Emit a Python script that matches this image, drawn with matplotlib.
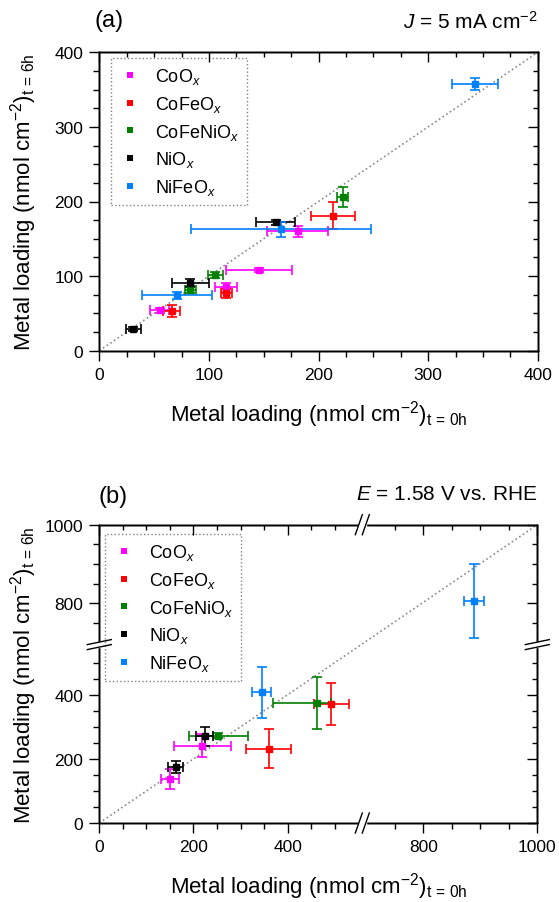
import numpy as np
import matplotlib
matplotlib.use('Agg')
import matplotlib.pyplot as plt
from matplotlib.lines import Line2D
from matplotlib.patches import Rectangle
from matplotlib.ticker import FixedLocator

plt.rcParams['font.family'] = ['Liberation Sans', 'DejaVu Sans']
plt.rcParams['mathtext.fontset'] = 'custom'
plt.rcParams['mathtext.rm'] = 'Liberation Sans'
plt.rcParams['mathtext.it'] = 'Liberation Sans:italic'
plt.rcParams['mathtext.bf'] = 'Liberation Sans:bold'

names = ['CoO$_x$', 'CoFeO$_x$', 'CoFeNiO$_x$', 'NiO$_x$', 'NiFeO$_x$']
colors = ['#FF00FF', '#FF0000', '#008000', '#000000', '#0080FF']

# (a) J = 5 mA cm-2, loading at t = 0h vs t = 6h (nmol cm-2)
a_t0 = [[55, 116, 146, 181], [66, 116, 213], [83, 106, 222], [31, 83, 161], [71, 166, 343]]
a_t0_err = [[9, 10, 30, 28], [8, 5, 20], [5, 7, 5], [7, 17, 18], [32, 82, 21]]
a_t6 = [[54, 85, 108, 160], [53, 77, 181], [82, 102, 206], [29, 91, 172], [74, 163, 357]]
a_t6_err = [[3, 6, 3, 7], [8, 6, 18], [5, 4, 13], [3, 5, 3], [5, 10, 8]]

# (b) E = 1.58 V vs. RHE
b_t0 = [[150, 219], [360, 493], [253, 462], [162, 224], [345, 889]]
b_t0_lo = [[20, 60], [48, 37], [63, 94], [16, 18], [20, 17]]
b_t0_hi = [[20, 60], [48, 37], [63, 30], [16, 18], [20, 17]]
b_t6 = [[137, 241], [232, 370], [272, 374], [174, 270], [407, 805]]
b_t6_err = [[32, 36], [61, 65], [8, 80], [18, 30], [80, 94]]

b_major = [0, 200, 400, 800, 1000]
b_minor = [50, 100, 150, 250, 300, 350, 450, 500, 750, 850, 900, 950]
b_break = [0, 550, 700, 1000]

W, H = 559, 903
fig = plt.figure(figsize=(W / 100, H / 100), dpi=100)


def frac(l, t, r, b):
    return [l / W, 1 - b / H, (r - l) / W, (b - t) / H]


def make_scale(xp, fp):
    xp = np.asarray(xp, float)
    fp = np.asarray(fp, float)

    def conv(v, a, b):
        v = np.asarray(v, float)
        out = np.interp(v, a, b)
        out = np.where(v < a[0], b[0] + (v - a[0]) * (b[1] - b[0]) / (a[1] - a[0]), out)
        out = np.where(v > a[-1], b[-1] + (v - a[-1]) * (b[-1] - b[-2]) / (a[-1] - a[-2]), out)
        return out
    return (lambda v: conv(v, xp, fp), lambda t: conv(t, fp, xp))


def frame(ax, lim, major, minor, xfun=None, yfun=None):
    if xfun:
        ax.set_xscale('function', functions=xfun)
    if yfun:
        ax.set_yscale('function', functions=yfun)
    ax.set_xlim(lim)
    ax.set_ylim(lim)
    axt = ax.twiny()
    axr = ax.twinx()
    if xfun:
        axt.set_xscale('function', functions=xfun)
    if yfun:
        axr.set_yscale('function', functions=yfun)
    axt.set_xlim(lim)
    axr.set_ylim(lim)
    for axis in [ax.xaxis, ax.yaxis, axt.xaxis, axr.yaxis]:
        axis.set_major_locator(FixedLocator(major))
        axis.set_minor_locator(FixedLocator(minor))
    ax.tick_params(which='both', direction='out', width=1, labelsize=12.5, pad=4)
    ax.tick_params(which='major', length=7.5)
    ax.tick_params(which='minor', length=4)
    for a in (axt, axr):
        a.tick_params(which='both', direction='in', width=1, labeltop=False,
                      labelright=False)
        a.tick_params(which='major', length=7.5)
        a.tick_params(which='minor', length=3.5)
    for a in (ax, axt, axr):
        for s in a.spines.values():
            s.set_linewidth(1.0)
    ax.plot(lim, lim, ls=':', color='#8a8a8a', lw=1.2, zorder=1)


def draw_points(ax, xs, xlo, xhi, ys, yerr):
    for i in range(len(names)):
        ax.errorbar(xs[i], ys[i], xerr=[xlo[i], xhi[i]], yerr=yerr[i], fmt='s',
                    color=colors[i], mec=colors[i], ms=5, elinewidth=1.2,
                    capsize=3.8, capthick=1.2, zorder=3)


def add_legend(ax, anchor):
    handles = [Line2D([], [], ls='none', marker='s', color=c, ms=5, mew=0) for c in colors]
    leg = ax.legend(handles, names, loc='upper left', bbox_to_anchor=anchor,
                    borderaxespad=0, fancybox=False, edgecolor='#808080',
                    fontsize=13, handlelength=1.2, handletextpad=0.8,
                    labelspacing=0.43, borderpad=0.45, framealpha=1)
    leg.get_frame().set_linestyle(':')
    leg.get_frame().set_linewidth(1.0)


def to_fig(pts):
    return fig.transFigure.inverted().transform(pts)


def break_marks(ax, xv, yv):
    x0 = ax.transData.transform((xv, 0))[0]
    y0 = ax.transData.transform((0, yv))[1]
    (xl, yb), (xr, yt) = ax.transAxes.transform([(0, 0), (1, 1)])
    for ys in (yb, yt):
        (rx, ry), (rx2, ry2) = to_fig([(x0 - 3.5, ys - 2), (x0 + 3.5, ys + 2)])
        fig.add_artist(Rectangle((rx, ry), rx2 - rx, ry2 - ry, transform=fig.transFigure,
                                 color='white', zorder=10))
        for off in (-3.5, 3.5):
            p = to_fig([(x0 + off - 3.5, ys - 10), (x0 + off + 3.5, ys + 10)])
            fig.add_artist(Line2D(p[:, 0], p[:, 1], transform=fig.transFigure,
                                  color='black', lw=1.0, zorder=11))
    for xs in (xl, xr):
        (rx, ry), (rx2, ry2) = to_fig([(xs - 2, y0 - 2.5), (xs + 2, y0 + 2.5)])
        fig.add_artist(Rectangle((rx, ry), rx2 - rx, ry2 - ry, transform=fig.transFigure,
                                 color='white', zorder=10))
        for off in (-2.5, 2.5):
            p = to_fig([(xs - 12, y0 + off - 2.5), (xs + 12, y0 + off + 2.5)])
            fig.add_artist(Line2D(p[:, 0], p[:, 1], transform=fig.transFigure,
                                  color='black', lw=1.0, zorder=11))


xlabel = 'Metal loading (nmol cm$^{-2}$)$_{\\mathregular{t\\,=\\,0h}}$'
ylabel = 'Metal loading (nmol cm$^{-2}$)$_{\\mathregular{t\\,=\\,6h}}$'

# panel (a)
ax_a = fig.add_axes(frac(99.3, 53.3, 537.7, 351.7))
frame(ax_a, (0, 400), np.arange(0, 401, 100), np.arange(0, 401, 25))
draw_points(ax_a, a_t0, a_t0_err, a_t0_err, a_t6, a_t6_err)
add_legend(ax_a, (0.026, 0.981))
fig.text(95 / W, 1 - 21 / H, '(a)', fontsize=17, ha='left', va='center')
fig.text(538 / W, 1 - 22 / H, '$J$ = 5 mA cm$^{-2}$', fontsize=15, ha='right', va='center')
fig.text(318.5 / W, 1 - 415 / H, xlabel, fontsize=16, ha='center', va='center')
fig.text(24 / W, 1 - 202.5 / H, ylabel, fontsize=16, ha='center', va='center', rotation=90)

# panel (b) with broken axes
ax_b = fig.add_axes(frac(99.3, 525.7, 537.3, 824))
fx = make_scale(b_break, [0, 259, 267, 438])
fy = make_scale(b_break, [0, 176.4, 180.4, 298.3])
frame(ax_b, (0, 1000), b_major, b_minor, xfun=fx, yfun=fy)
draw_points(ax_b, b_t0, b_t0_lo, b_t0_hi, b_t6, b_t6_err)
add_legend(ax_b, (0.013, 0.969))
fig.text(98 / W, 1 - 497.5 / H, '(b)', fontsize=17, ha='left', va='center')
fig.text(538 / W, 1 - 495 / H, '$E$ = 1.58 V vs. RHE', fontsize=15, ha='right', va='center')
fig.text(318.5 / W, 1 - 887 / H, xlabel, fontsize=16, ha='center', va='center')
fig.text(24 / W, 1 - 675 / H, ylabel, fontsize=16, ha='center', va='center', rotation=90)
break_marks(ax_b, (b_break[1] + b_break[2]) / 2, (b_break[1] + b_break[2]) / 2)

fig.savefig('out.png', dpi=100)
